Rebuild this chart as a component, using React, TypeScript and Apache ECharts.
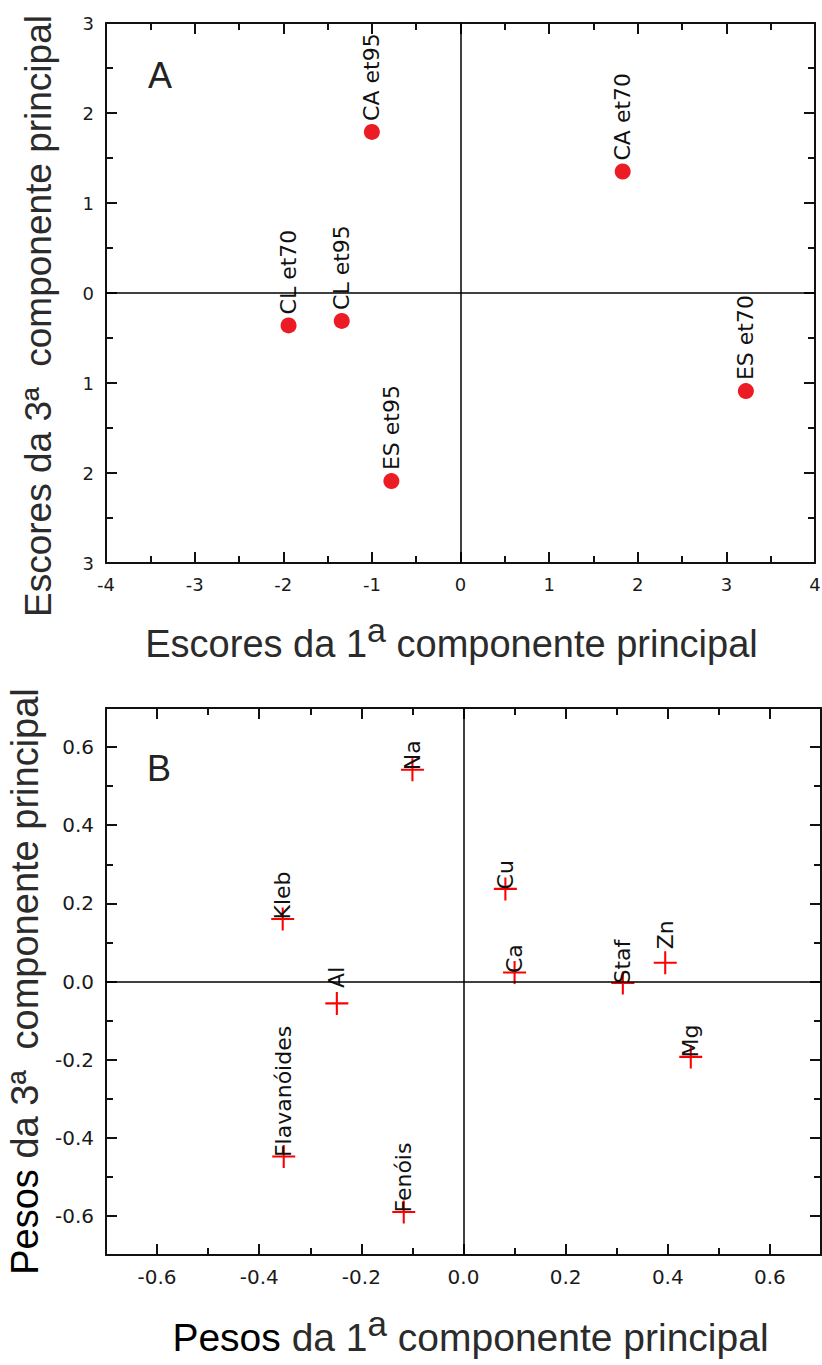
import React, { useEffect, useRef } from "react";
import * as echarts from "echarts";

// ---- Panel A: scores ----
const scoreNames = ["CA et95", "CL et70", "CL et95", "ES et95", "CA et70", "ES et70"];
const scorePC1 = [-1.0, -1.94, -1.34, -0.78, 1.83, 3.22];
const scorePC3 = [1.79, -0.36, -0.31, -2.09, 1.35, -1.09];

// ---- Panel B: loadings ----
const loadingNames = ["Na", "Kleb", "Al", "Flavanóides", "Fenóis", "Cu", "Ca", "Staf", "Zn", "Mg"];
const loadingPC1 = [-0.1, -0.354, -0.248, -0.352, -0.117, 0.082, 0.1, 0.312, 0.395, 0.445];
const loadingPC3 = [0.542, 0.16, -0.056, -0.448, -0.59, 0.237, 0.023, -0.004, 0.048, -0.193];

// tick values for panel B
const loadingMajorTicks = [-0.6, -0.4, -0.2, 0, 0.2, 0.4, 0.6];
const loadingMinorTicks = [-0.5, -0.3, -0.1, 0.1, 0.3, 0.5];

const TITLE_FONT = '"Liberation Sans", Arial, Helvetica, sans-serif';
const TICK_FONT = '"DejaVu Sans", Verdana, sans-serif';
const INK = "#111";
const TITLE_COLOR = "#2b2b2b";

const CROSS = "path://M0 9.1H20V10.9H0Z M9.1 0H10.9V20H9.1Z";

const lineStyle = { color: INK, width: 2 };

function baseAxis(extra: any) {
  return {
    type: "value",
    splitLine: { show: false },
    minorSplitLine: { show: false },
    axisLine: { show: true, onZero: false, lineStyle },
    axisTick: { show: true, inside: true, length: 11, lineStyle },
    ...extra,
  };
}

export default function App() {
  const ref = useRef<HTMLDivElement>(null);

  useEffect(() => {
    document.body.style.margin = "0";
    if (!ref.current) return;
    const chart = echarts.init(ref.current, undefined, { renderer: "svg" });

    const xTitleStyle = (size: number, pad: number[], colorP?: string) => ({
      fontFamily: TITLE_FONT,
      fontSize: size,
      color: TITLE_COLOR,
      lineHeight: 62,
      padding: pad,
      rich: {
        p: { fontFamily: TITLE_FONT, fontSize: size, lineHeight: 62, color: colorP || TITLE_COLOR },
        n: { fontFamily: TITLE_FONT, fontSize: size, lineHeight: 62, color: TITLE_COLOR },
        s: { fontFamily: TITLE_FONT, fontSize: size - 4, lineHeight: 34, verticalAlign: "top", color: TITLE_COLOR },
      },
    });

    const tickLabelA = { fontFamily: TICK_FONT, fontSize: 18, color: "#1a1a1a", margin: 12 };
    const tickLabelB = { fontFamily: TICK_FONT, fontSize: 20, color: "#1a1a1a", margin: 12 };

    const scoreData = scoreNames.map((n, i) => ({ name: n, value: [scorePC1[i], scorePC3[i]] }));
    const labelDistanceOverride: Record<string, number> = { Al: 4, Zn: 2 };
    const loadingData = loadingNames.map((n, i) => {
      const item: any = { name: n, value: [loadingPC1[i], loadingPC3[i]] };
      if (labelDistanceOverride[n] != null) item.label = { distance: labelDistanceOverride[n] };
      return item;
    });

    const zeroLines = {
      silent: true,
      symbol: ["none", "none"],
      label: { show: false },
      lineStyle: { color: "#000", width: 1.5, type: "solid" },
      emphasis: { disabled: true },
      data: [{ xAxis: 0 }, { yAxis: 0 }],
    };

    const option: any = {
      animation: false,
      backgroundColor: "#fff",
      grid: [
        { left: 106, top: 23, width: 709, height: 540, containLabel: false, outerBoundsMode: "none" },
        { left: 106, top: 708, width: 715, height: 547, containLabel: false, outerBoundsMode: "none" },
      ],
      xAxis: [
        // Panel A bottom
        baseAxis({
          gridIndex: 0,
          position: "bottom",
          min: -4,
          max: 4,
          interval: 1,
          minorTick: { show: true, splitNumber: 2, length: 7, lineStyle },
          axisLabel: tickLabelA,
          name: "{n|Escores da 1}{s|a}{n| componente principal}",
          nameLocation: "middle",
          nameGap: 50,
          nameTextStyle: xTitleStyle(38, [0, 18, 0, 0]),
        }),
        // Panel A top
        baseAxis({
          gridIndex: 0,
          position: "top",
          min: -4,
          max: 4,
          interval: 1,
          minorTick: { show: true, splitNumber: 2, length: 7, lineStyle },
          axisLabel: { show: false },
        }),
        // Panel B bottom (major)
        baseAxis({
          gridIndex: 1,
          position: "bottom",
          min: -0.7,
          max: 0.7,
          interval: 0.1,
          axisTick: { show: true, inside: true, length: 11, lineStyle, customValues: loadingMajorTicks },
          axisLabel: {
            ...tickLabelB,
            customValues: loadingMajorTicks,
            formatter: (v: number) => v.toFixed(1),
          },
          name: "{p|Pesos}{n| da 1}{s|a}{n| componente principal}",
          nameLocation: "middle",
          nameGap: 51,
          nameTextStyle: xTitleStyle(39, [0, 0, 0, 14], "#000"),
        }),
        // Panel B bottom (minor)
        baseAxis({
          gridIndex: 1,
          position: "bottom",
          min: -0.7,
          max: 0.7,
          interval: 0.1,
          axisLine: { show: false, onZero: false },
          axisTick: { show: true, inside: true, length: 7, lineStyle, customValues: loadingMinorTicks },
          axisLabel: { show: false },
        }),
        // Panel B top (major)
        baseAxis({
          gridIndex: 1,
          position: "top",
          min: -0.7,
          max: 0.7,
          interval: 0.1,
          axisTick: { show: true, inside: true, length: 11, lineStyle, customValues: loadingMajorTicks },
          axisLabel: { show: false },
        }),
        // Panel B top (minor)
        baseAxis({
          gridIndex: 1,
          position: "top",
          min: -0.7,
          max: 0.7,
          interval: 0.1,
          axisLine: { show: false, onZero: false },
          axisTick: { show: true, inside: true, length: 7, lineStyle, customValues: loadingMinorTicks },
          axisLabel: { show: false },
        }),
      ],
      yAxis: [
        // Panel A left
        baseAxis({
          gridIndex: 0,
          position: "left",
          min: -3,
          max: 3,
          interval: 1,
          minorTick: { show: true, splitNumber: 2, length: 7, lineStyle },
          axisLabel: { ...tickLabelA, formatter: (v: number) => String(Math.abs(v)) },
          name: "Escores da 3ª  componente principal",
          nameLocation: "middle",
          nameGap: 49,
          nameTextStyle: {
            fontFamily: TITLE_FONT,
            fontSize: 37,
            lineHeight: 37,
            color: TITLE_COLOR,
            padding: [0, 46, 0, 0],
          },
        }),
        // Panel A right
        baseAxis({
          gridIndex: 0,
          position: "right",
          min: -3,
          max: 3,
          interval: 1,
          minorTick: { show: true, splitNumber: 2, length: 7, lineStyle },
          axisLabel: { show: false },
        }),
        // Panel B left (major)
        baseAxis({
          gridIndex: 1,
          position: "left",
          min: -0.7,
          max: 0.7,
          interval: 0.1,
          axisTick: { show: true, inside: true, length: 11, lineStyle, customValues: loadingMajorTicks },
          axisLabel: {
            ...tickLabelB,
            customValues: loadingMajorTicks,
            formatter: (v: number) => v.toFixed(1),
          },
          name: "{p|Pesos}{n| da 3ª  componente principal}",
          nameLocation: "middle",
          nameGap: 57,
          nameTextStyle: {
            fontFamily: TITLE_FONT,
            fontSize: 38,
            lineHeight: 38,
            color: TITLE_COLOR,
            rich: {
              p: { fontFamily: TITLE_FONT, fontSize: 38, lineHeight: 38, color: "#000" },
              n: { fontFamily: TITLE_FONT, fontSize: 38, lineHeight: 38, color: TITLE_COLOR },
            },
          },
        }),
        // Panel B left (minor)
        baseAxis({
          gridIndex: 1,
          position: "left",
          min: -0.7,
          max: 0.7,
          interval: 0.1,
          axisLine: { show: false, onZero: false },
          axisTick: { show: true, inside: true, length: 7, lineStyle, customValues: loadingMinorTicks },
          axisLabel: { show: false },
        }),
        // Panel B right (major)
        baseAxis({
          gridIndex: 1,
          position: "right",
          min: -0.7,
          max: 0.7,
          interval: 0.1,
          axisTick: { show: true, inside: true, length: 11, lineStyle, customValues: loadingMajorTicks },
          axisLabel: { show: false },
        }),
        // Panel B right (minor)
        baseAxis({
          gridIndex: 1,
          position: "right",
          min: -0.7,
          max: 0.7,
          interval: 0.1,
          axisLine: { show: false, onZero: false },
          axisTick: { show: true, inside: true, length: 7, lineStyle, customValues: loadingMinorTicks },
          axisLabel: { show: false },
        }),
      ],
      series: [
        {
          type: "scatter",
          name: "Escores",
          xAxisIndex: 0,
          yAxisIndex: 0,
          symbol: "circle",
          symbolSize: 16,
          itemStyle: { color: "#ec1c24", opacity: 1 },
          data: scoreData,
          label: {
            show: true,
            formatter: (p: any) => p.name,
            position: "top",
            distance: 3,
            rotate: 90,
            align: "left",
            verticalAlign: "middle",
            fontFamily: TICK_FONT,
            fontSize: 22,
            color: INK,
          },
          markLine: zeroLines,
          z: 3,
        },
        {
          type: "scatter",
          name: "Pesos",
          xAxisIndex: 2,
          yAxisIndex: 2,
          symbol: CROSS,
          symbolSize: 23,
          itemStyle: { color: "#ff0000", opacity: 1 },
          data: loadingData,
          label: {
            show: true,
            formatter: (p: any) => p.name,
            position: "top",
            distance: -12,
            rotate: 90,
            align: "left",
            verticalAlign: "middle",
            fontFamily: TICK_FONT,
            fontSize: 22,
            color: INK,
          },
          markLine: zeroLines,
          z: 3,
        },
      ],
      graphic: [
        {
          type: "text",
          x: 148,
          y: 75,
          style: {
            text: "A",
            fontFamily: TITLE_FONT,
            fontSize: 36,
            fill: "#222",
            align: "left",
            verticalAlign: "middle",
          },
        },
        {
          type: "text",
          x: 147,
          y: 768,
          style: {
            text: "B",
            fontFamily: TITLE_FONT,
            fontSize: 36,
            fill: "#222",
            align: "left",
            verticalAlign: "middle",
          },
        },
      ],
    };

    chart.setOption(option);
    return () => chart.dispose();
  }, []);

  return <div ref={ref} style={{ width: 822, height: 1365 }} />;
}
